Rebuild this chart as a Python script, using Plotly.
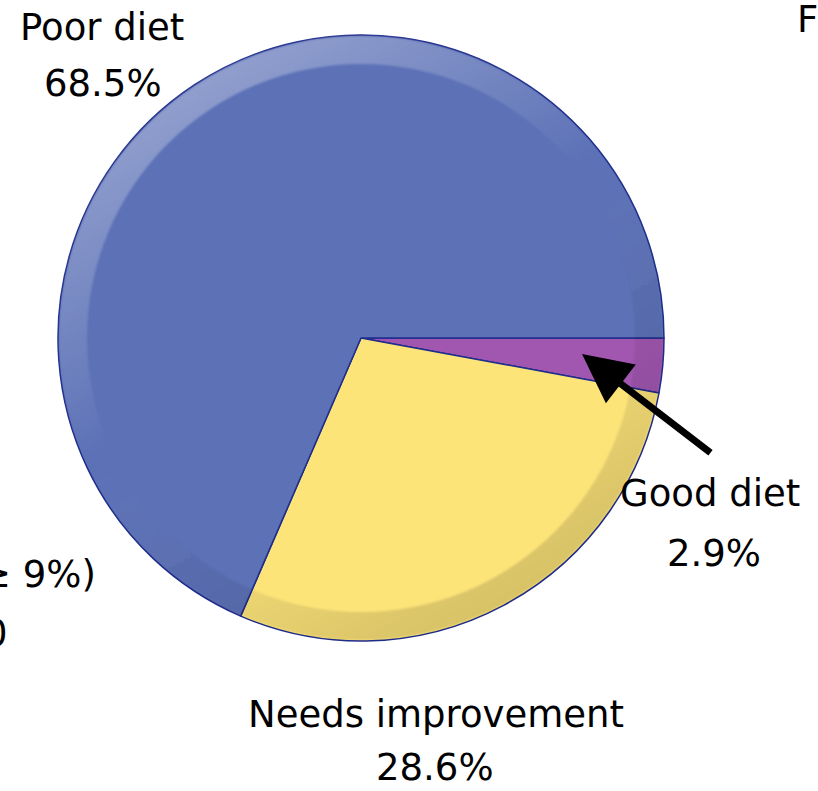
import base64
import plotly.graph_objects as go

# Diet quality shares (%)
labels = ["Good diet", "Needs improvement", "Poor diet"]
shares = [2.9, 28.6, 68.5]
face_colors = ["#A156B0", "#FDE479", "#5C71B6"]
outline_color = "#1F2D8C"

W, H = 818, 791
FONT = "DejaVu Sans"

# Pie placement in pixels
cx, cy, R, r_inner = 361, 338, 303, 274


def px_x(x):
    return x / W


def px_y(y):
    return 1 - y / H


fig = go.Figure()
fig.add_trace(go.Pie(
    labels=labels,
    values=shares,
    sort=False,
    direction="clockwise",
    rotation=90,
    textinfo="none",
    hoverinfo="label+percent",
    showlegend=False,
    marker=dict(colors=face_colors, line=dict(color=outline_color, width=1.5)),
    domain=dict(x=[px_x(cx - R), px_x(cx + R)], y=[px_y(cy + R), px_y(cy - R)]),
))

# Bevelled rim: light top-left, shaded bottom-right
d = 2 * R
svg = f"""<svg xmlns='http://www.w3.org/2000/svg' width='{d}' height='{d}' viewBox='0 0 {d} {d}'>
<defs><linearGradient id='g' x1='0.2' y1='0' x2='0.8' y2='1'>
<stop offset='0' stop-color='#ffffff' stop-opacity='0.38'/>
<stop offset='0.45' stop-color='#ffffff' stop-opacity='0'/>
<stop offset='0.7' stop-color='#000000' stop-opacity='0.06'/>
<stop offset='0.9' stop-color='#000000' stop-opacity='0.14'/>
<stop offset='1' stop-color='#000000' stop-opacity='0.16'/>
</linearGradient>
<filter id='b'><feGaussianBlur stdDeviation='0.8'/></filter></defs>
<path fill='url(#g)' fill-rule='evenodd' filter='url(#b)'
 d='M 1,{R} a {R - 1},{R - 1} 0 1,0 {2 * (R - 1)},0 a {R - 1},{R - 1} 0 1,0 {-2 * (R - 1)},0 Z
    M {R - r_inner},{R} a {r_inner},{r_inner} 0 1,0 {2 * r_inner},0 a {r_inner},{r_inner} 0 1,0 {-2 * r_inner},0 Z'/>
</svg>"""
src = "data:image/svg+xml;base64," + base64.b64encode(svg.encode()).decode()
fig.add_layout_image(dict(
    source=src, xref="paper", yref="paper",
    x=px_x(cx - R), y=px_y(cy - R), sizex=d / W, sizey=d / H,
    xanchor="left", yanchor="top", sizing="stretch", layer="above",
))


def text(s, x, y, xanchor="center", size=37):
    fig.add_annotation(
        text=s, x=px_x(x), y=px_y(y), xref="paper", yref="paper",
        xanchor=xanchor, yanchor="middle", showarrow=False,
        font=dict(family=FONT, size=size, color="#000000"),
    )


# Slice labels with their percentages
text(labels[2], 102, 27)
text(f"{shares[2]}%", 103, 84)
text(labels[0], 710, 493)
text(f"{shares[0]}%", 714, 553)
text(labels[1], 436, 714)
text(f"{shares[1]}%", 435, 767)

# Text running off the edges of the slide
text("≥ 9%)", 98, 574, xanchor="right")
text("0", 10, 633, xanchor="right")
text("F", 795, 20, xanchor="left")

# Arrow pointing at the small slice
fig.add_annotation(
    x=px_x(582), y=px_y(354), xref="paper", yref="paper",
    ax=130, ay=100, text="", showarrow=True,
    arrowhead=2, arrowsize=1.4, arrowwidth=7, arrowcolor="#000000", standoff=0,
)

fig.update_layout(
    width=W, height=H,
    margin=dict(l=0, r=0, t=0, b=0),
    paper_bgcolor="#ffffff", plot_bgcolor="#ffffff",
)

fig.write_html("out.html")
